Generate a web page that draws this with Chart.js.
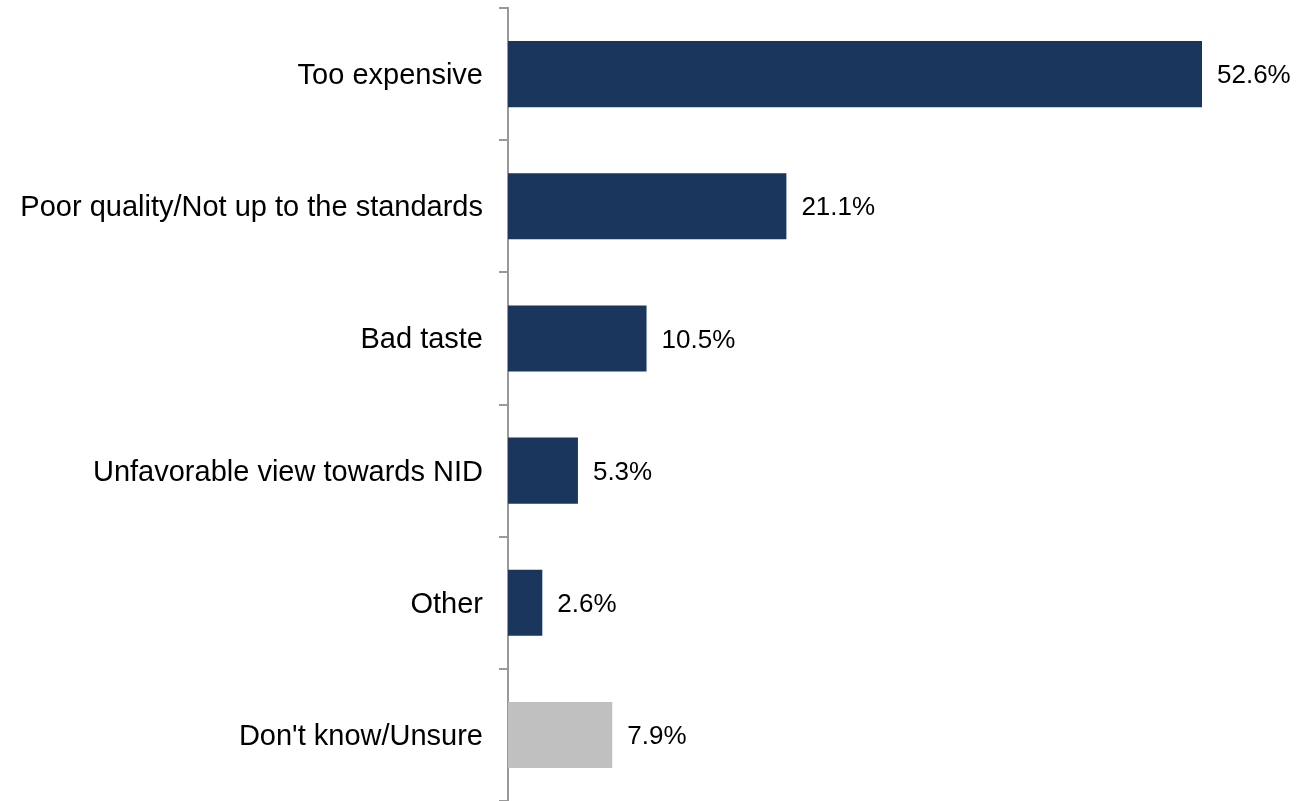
<!DOCTYPE html>
<html>
<head>
<meta charset="utf-8">
<script src="https://cdn.jsdelivr.net/npm/chart.js@4/dist/chart.umd.min.js"></script>
<style>
  html, body { margin: 0; padding: 0; background: #fff; }
  #wrap { width: 1297px; height: 801px; position: relative; }
</style>
</head>
<body>
<div id="wrap"><canvas id="reasonsChart"></canvas></div>
<script>
const reasons = [
    "Too expensive",
    "Poor quality/Not up to the standards",
    "Bad taste",
    "Unfavorable view towards NID",
    "Other",
    "Don't know/Unsure"
];
const shares = [52.6, 21.1, 10.5, 5.3, 2.6, 7.9];
const barColors = ["#1B365D", "#1B365D", "#1B365D", "#1B365D", "#1B365D", "#C0C0C0"];

// valeurs en % a droite de chaque barre
const valueLabels = {
    id: "valueLabels",
    afterDatasetsDraw(chart) {
        const { ctx } = chart;
        const meta = chart.getDatasetMeta(0);
        ctx.save();
        ctx.font = "26px 'Liberation Sans', Arial, sans-serif";
        ctx.fillStyle = "#000";
        ctx.textAlign = "left";
        ctx.textBaseline = "middle";
        meta.data.forEach((bar, i) => {
            ctx.fillText(shares[i].toFixed(1) + "%", bar.x + 15, bar.y + 2);
        });
        ctx.restore();
    }
};

new Chart(document.getElementById("reasonsChart").getContext("2d"), {
    type: "bar",
    data: {
        labels: reasons,
        datasets: [{
            data: shares,
            backgroundColor: barColors,
            barPercentage: 0.5,
            categoryPercentage: 1
        }]
    },
    plugins: [valueLabels],
    options: {
        indexAxis: "y",
        responsive: true,
        maintainAspectRatio: false,
        animation: false,
        layout: { padding: { top: 8, right: 0, bottom: 0, left: 0 } },
        plugins: {
            legend: { display: false },
            tooltip: { enabled: false }
        },
        scales: {
            x: { display: false, min: 0, max: 59.8 },
            y: {
                afterFit: (scale) => {
                    scale.width = 508;
                    scale.paddingTop = 0;
                    scale.paddingBottom = 0;
                },
                border: { display: true, color: "#999", width: 2 },
                grid: {
                    drawOnChartArea: false,
                    drawTicks: true,
                    tickLength: 9,
                    color: "#999",
                    lineWidth: 2,
                    offset: true
                },
                ticks: {
                    padding: 16,
                    labelOffset: 2,
                    color: "#000",
                    font: { family: "'Liberation Sans', Arial, sans-serif", size: 29 }
                }
            }
        }
    }
});
</script>
</body>
</html>
